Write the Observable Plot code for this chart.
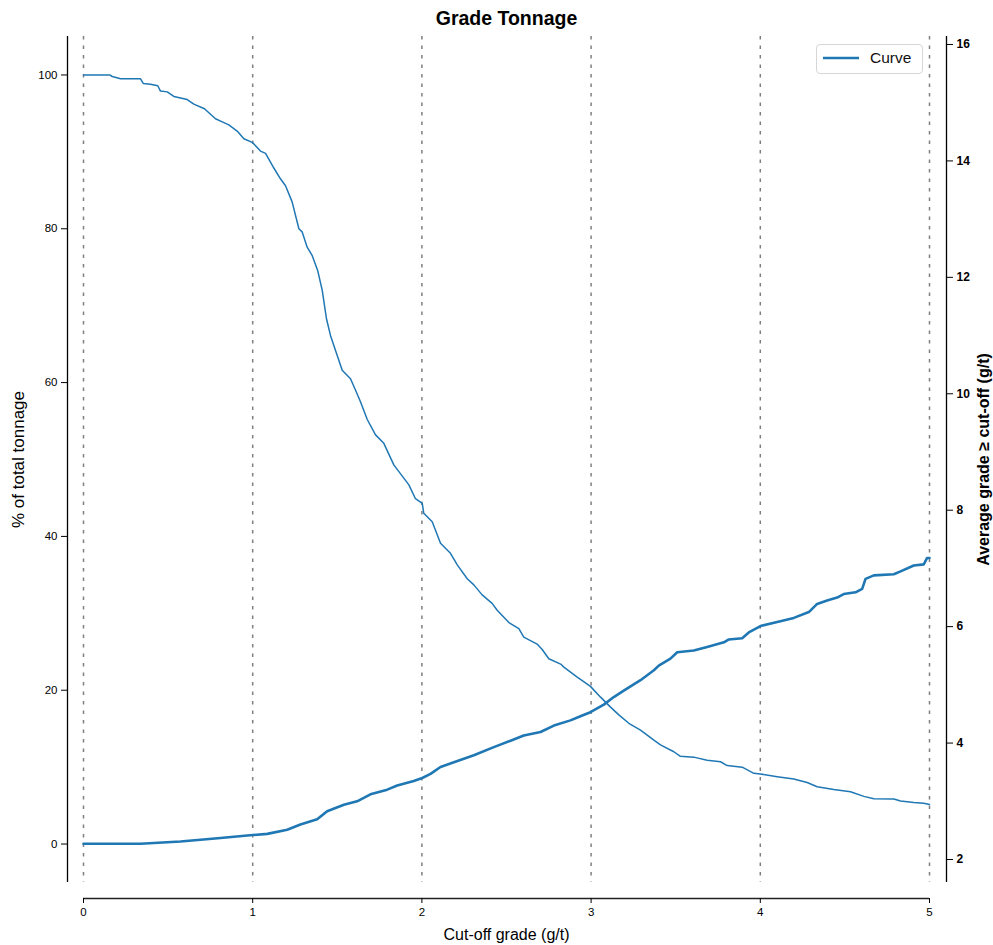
<!DOCTYPE html>
<html>
<head>
<meta charset="utf-8">
<script src="https://cdn.jsdelivr.net/npm/d3@7"></script>
<script src="https://cdn.jsdelivr.net/npm/@observablehq/plot@0.6"></script>
<style>
  html, body { margin: 0; padding: 0; background: #fff; }
  #wrap { position: relative; width: 993px; height: 945px; font-family: "Liberation Sans", Arial, sans-serif; }
  #legend { position: absolute; left: 816px; top: 44px; width: 105px; height: 28px; border: 1px solid #d6d6d6; border-radius: 4px; background: rgba(255,255,255,0.85); }
  #legend svg { position: absolute; left: 0; top: 0; }
  #legend span { position: absolute; left: 53px; top: 4px; font-size: 15.5px; color: #111; }
</style>
</head>
<body>
<div id="wrap"><div id="legend"><svg width="50" height="28"><line x1="6" y1="13" x2="42" y2="13" stroke="#1f77b4" stroke-width="2.5"/></svg><span>Curve</span></div></div>
<script>
// Tonnage curve: cut-off grade (g/t) vs % of total tonnage
const tonCutoff = [0,0.155,0.17,0.219,0.337,0.353,0.396,0.439,0.455,0.495,0.534,0.613,0.652,0.715,0.78,0.82,0.859,0.908,0.948,1.0,1.046,1.076,1.125,1.164,1.194,1.233,1.273,1.292,1.322,1.352,1.385,1.411,1.436,1.46,1.489,1.529,1.578,1.608,1.637,1.677,1.726,1.775,1.834,1.923,1.962,2.002,2.011,2.061,2.11,2.169,2.209,2.268,2.307,2.356,2.415,2.445,2.514,2.573,2.602,2.681,2.711,2.75,2.82,2.839,2.918,2.996,3.056,3.115,3.164,3.223,3.292,3.371,3.41,3.489,3.528,3.607,3.686,3.765,3.804,3.893,3.962,4.001,4.1,4.198,4.277,4.336,4.434,4.533,4.612,4.671,4.789,4.829,4.907,4.966,5.0];
const tonnagePct = [100,100,99.8,99.5,99.5,98.9,98.8,98.6,97.9,97.8,97.2,96.8,96.2,95.6,94.3,93.9,93.5,92.7,91.7,91.2,90.1,89.8,87.9,86.5,85.6,83.5,80.0,79.6,77.6,76.5,74.5,72.0,68.3,66.1,64.2,61.6,60.5,59.0,57.5,55.2,53.2,52.1,49.3,46.7,44.9,44.3,43.0,41.9,39.1,37.8,36.3,34.5,33.7,32.4,31.3,30.4,28.8,28.0,26.9,26.0,25.3,24.1,23.4,23.0,21.7,20.5,19.1,17.8,16.8,15.7,14.8,13.5,12.9,12.0,11.4,11.3,10.9,10.7,10.2,10.0,9.2,9.1,8.75,8.45,8.0,7.45,7.1,6.8,6.2,5.9,5.85,5.6,5.4,5.3,5.15];

// Average grade above cut-off (g/t), right axis
const gradeCutoff = [0,0.337,0.573,0.81,1.0,1.086,1.204,1.282,1.381,1.44,1.539,1.617,1.696,1.795,1.854,1.952,2.002,2.051,2.11,2.189,2.307,2.425,2.524,2.602,2.701,2.78,2.878,2.937,2.996,3.075,3.134,3.193,3.292,3.371,3.40,3.469,3.509,3.607,3.686,3.785,3.814,3.893,3.932,4.001,4.10,4.198,4.287,4.336,4.395,4.454,4.493,4.563,4.602,4.622,4.671,4.789,4.829,4.907,4.966,4.986,5.0];
const avgGrade = [2.27,2.27,2.31,2.37,2.42,2.44,2.51,2.60,2.69,2.83,2.94,3.00,3.12,3.20,3.27,3.35,3.40,3.47,3.59,3.67,3.79,3.93,4.04,4.13,4.19,4.30,4.39,4.46,4.53,4.66,4.79,4.90,5.08,5.25,5.33,5.45,5.56,5.59,5.65,5.73,5.78,5.80,5.90,6.01,6.08,6.15,6.25,6.39,6.45,6.50,6.56,6.59,6.65,6.82,6.88,6.90,6.95,7.05,7.07,7.18,7.18];

const xTicks = [0,1,2,3,4,5];
const leftTicks = [0,20,40,60,80,100];
const rightTicks = [2,4,6,8,10,12,14,16];

const leftDomain = [-5, 105];
const rightDomain = [1.605, 16.137];
const toLeft = d3.scaleLinear().domain(rightDomain).range(leftDomain);

const tonData = tonCutoff.map((c, i) => ({c, v: tonnagePct[i]}));
const gradeData = gradeCutoff.map((c, i) => ({c, v: toLeft(avgGrade[i])}));

const blue = "#1f77b4";
const chart = Plot.plot({
  width: 993,
  height: 945,
  marginLeft: 83,
  marginRight: 64,
  marginTop: 36,
  marginBottom: 63,
  style: {fontFamily: "'Liberation Sans', Arial, sans-serif", color: "#000", background: "transparent"},
  x: {domain: [0, 5]},
  y: {domain: leftDomain},
  marks: [
    Plot.ruleX(xTicks, {stroke: "#7f7f7f", strokeWidth: 1.5, strokeDasharray: "3.5,6"}),
    Plot.line(tonData, {x: "c", y: "v", stroke: blue, strokeWidth: 1.5}),
    Plot.line(gradeData, {x: "c", y: "v", stroke: blue, strokeWidth: 2.6}),
    // spines
    Plot.ruleX([0], {dx: -16, stroke: "#000", strokeWidth: 1.3}),
    Plot.ruleX([5], {dx: 17, stroke: "#000", strokeWidth: 1.3}),
    Plot.ruleY([leftDomain[0]], {dy: 16, stroke: "#222", strokeWidth: 1.3}),
    // axes
    Plot.axisX({ticks: xTicks, dy: 16, tickSize: 5, tickPadding: 4, fontSize: 11.5, label: null, tickFormat: d => String(d)}),
    Plot.axisY({ticks: leftTicks, dx: -16, tickSize: 6, tickPadding: 4, fontSize: 11.5, label: null, tickFormat: d => String(d)}),
    Plot.axisY({anchor: "right", ticks: rightTicks.map(toLeft), dx: 17, tickSize: 6, tickPadding: 4, fontSize: 12, fontWeight: "bold", label: null,
      tickFormat: d => String(Math.round(toLeft.invert(d)))}),
    // titles
    Plot.text(["Grade Tonnage"], {frameAnchor: "top", lineAnchor: "middle", dy: -18, fontSize: 19.5, fontWeight: "bold"}),
    Plot.text(["% of total tonnage"], {frameAnchor: "left", textAnchor: "middle", lineAnchor: "middle", dx: -65, rotate: -90, fontSize: 17}),
    Plot.text(["Average grade ≥ cut-off (g/t)"], {frameAnchor: "right", textAnchor: "middle", lineAnchor: "middle", dx: 54, rotate: -90, fontSize: 16, fontWeight: "bold"}),
    Plot.text(["Cut-off grade (g/t)"], {frameAnchor: "bottom", lineAnchor: "middle", dy: 52, fontSize: 16})
  ]
});
document.getElementById("wrap").prepend(chart);
</script>
</body>
</html>
